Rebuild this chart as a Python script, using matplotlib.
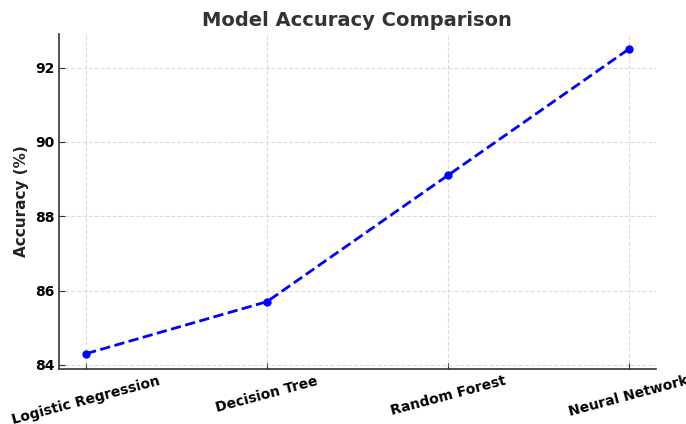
import matplotlib
matplotlib.use("Agg")
import matplotlib.pyplot as plt

models = ["Logistic Regression", "Decision Tree", "Random Forest", "Neural Network"]
accuracy = [84.3, 85.7, 89.1, 92.5]

fig, ax = plt.subplots(figsize=(6.86, 4.24), dpi=100)
fig.subplots_adjust(left=0.086, right=0.956, bottom=0.13, top=0.92)

ax.plot(models, accuracy, color="blue", linestyle="--", linewidth=2,
        marker="o", markersize=5)

ax.set_title("Model Accuracy Comparison", fontsize=14, fontweight="bold", color="#333333")
ax.set_ylabel("Accuracy (%)", fontsize=11, fontweight="bold", color="#222222")
ax.set_yticks([84, 86, 88, 90, 92])
ax.grid(True, linestyle="--", color="#cccccc", alpha=0.7, linewidth=0.8)
ax.tick_params(direction="in", length=4, color="#333333")

for lab in ax.get_xticklabels():
    lab.set_rotation(15)
    lab.set_fontweight("bold")
    lab.set_fontsize(10)
for lab in ax.get_yticklabels():
    lab.set_fontweight("bold")
    lab.set_fontsize(10)

ax.spines["top"].set_visible(False)
ax.spines["right"].set_visible(False)
for s in ("left", "bottom"):
    ax.spines[s].set_color("#333333")
    ax.spines[s].set_linewidth(1.2)

fig.savefig("out.png", dpi=100)
